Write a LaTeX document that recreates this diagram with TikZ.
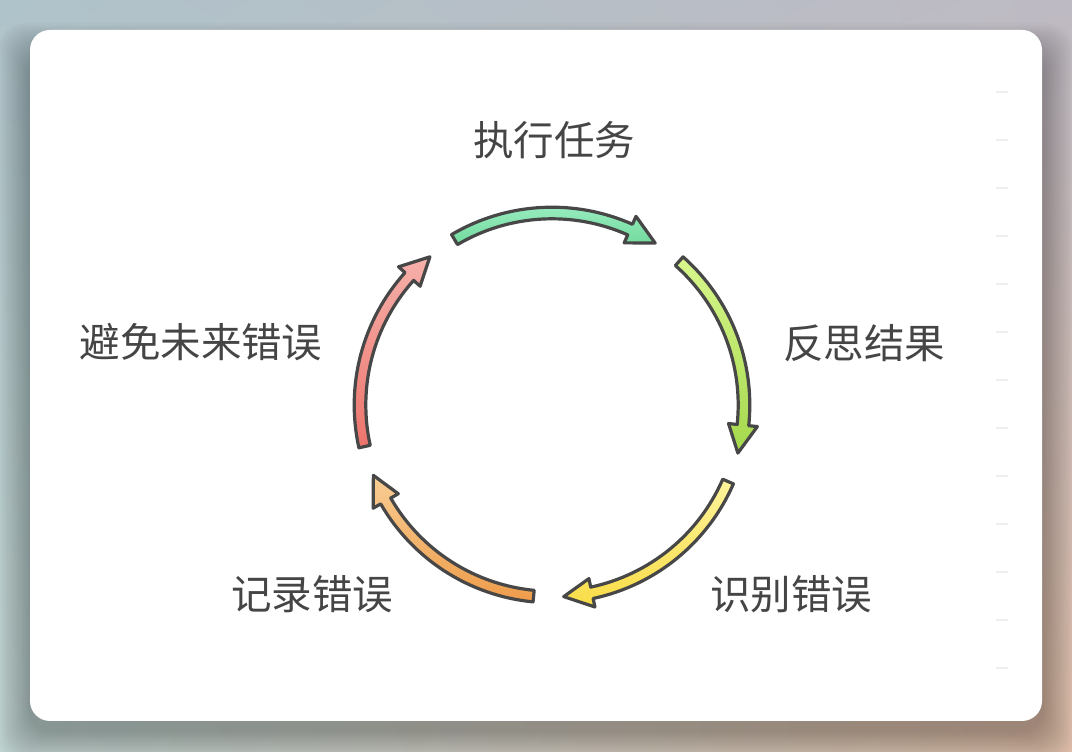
\documentclass[tikz,border=0pt]{standalone}
\usepackage{fontspec}
\newfontfamily\cjk{Noto Sans CJK SC}
\usetikzlibrary{calc,shadings}
\definecolor{bgUL}{HTML}{AFC3CA}
\definecolor{bgUR}{HTML}{BEBAC3}
\definecolor{bgLL}{HTML}{BDD3D0}
\definecolor{bgLR}{HTML}{DDBAA7}
\definecolor{txt}{HTML}{454545}
\definecolor{edge}{HTML}{474747}
\definecolor{tick}{HTML}{EEEEEE}
\definecolor{gT}{HTML}{9EF0C6}\definecolor{gB}{HTML}{72DA9C}
\definecolor{lT}{HTML}{D8F78C}\definecolor{lB}{HTML}{A4D84C}
\definecolor{yT}{HTML}{FFF49C}\definecolor{yB}{HTML}{F8DC46}
\definecolor{oT}{HTML}{F8CD94}\definecolor{oB}{HTML}{EE9C4A}
\definecolor{rT}{HTML}{F6B0AA}\definecolor{rB}{HTML}{EC746C}
\tikzset{
  arrowshape/.style={draw=edge, line width=3.2pt, line join=round},
  label/.style={font=\cjk\fontsize{40.5}{45}\selectfont, text=txt, inner sep=0pt},
}
% #1 tail angle, #2 head base angle, #3 tip angle, #4 top colour, #5 bottom colour
\newcommand\cycarrow[5]{%
  \draw[arrowshape, top color=#4, bottom color=#5]
    (#1:197.8pt) arc[start angle=#1, end angle=#2, radius=197.8pt]
    -- (#2:206.5pt) -- (#3:192pt) -- (#2:177.5pt) -- (#2:186.2pt)
    arc[start angle=#2, end angle=#1, radius=186.2pt] -- cycle;}
\begin{document}
\begin{tikzpicture}[x=1pt,y=1pt]
\useasboundingbox (0,0) rectangle (1072,752);
\shade[upper left=bgUL, upper right=bgUR, lower left=bgLL, lower right=bgLR] (0,0) rectangle (1072,752);
% soft shadow of the card
\foreach \i in {1,...,18}{
  \pgfmathsetmacro\s{\i*1.7}
  \fill[black, opacity=0.017, rounded corners=24pt]
    ($(30,31)+(-\s,-\s-10)$) rectangle ($(1042,722)+(\s,\s-24)$);
}
% card
\fill[white, rounded corners=20pt] (30,31) rectangle (1042,722);
% faint ticks at the right
\foreach \k in {0,...,12}{
  \draw[tick, line width=2pt] (996,{660-48*\k}) -- (1008,{660-48*\k});
}
% cycle of arrows
\begin{scope}[shift={(552,347)}]
  \cycarrow{120.5}{66}{57.5}{gT}{gB}
  \cycarrow{48.5}{-6}{-14.5}{lT}{lB}
  \cycarrow{-23.5}{-78}{-86.5}{yT}{yB}
  \cycarrow{-95.5}{-150}{-158.5}{oT}{oB}
  \cycarrow{-167.5}{-222}{-230.5}{rT}{rB}
\end{scope}
% labels
\node[label] (exec)    at (554,612) {执行任务};
\node[label] (reflect) at (864,409) {反思结果};
\node[label] (ident)   at (791,158) {识别错误};
\node[label] (record)  at (312,158) {记录错误};
\node[label] (avoid)   at (201,410) {避免未来错误};
\end{tikzpicture}
\end{document}
